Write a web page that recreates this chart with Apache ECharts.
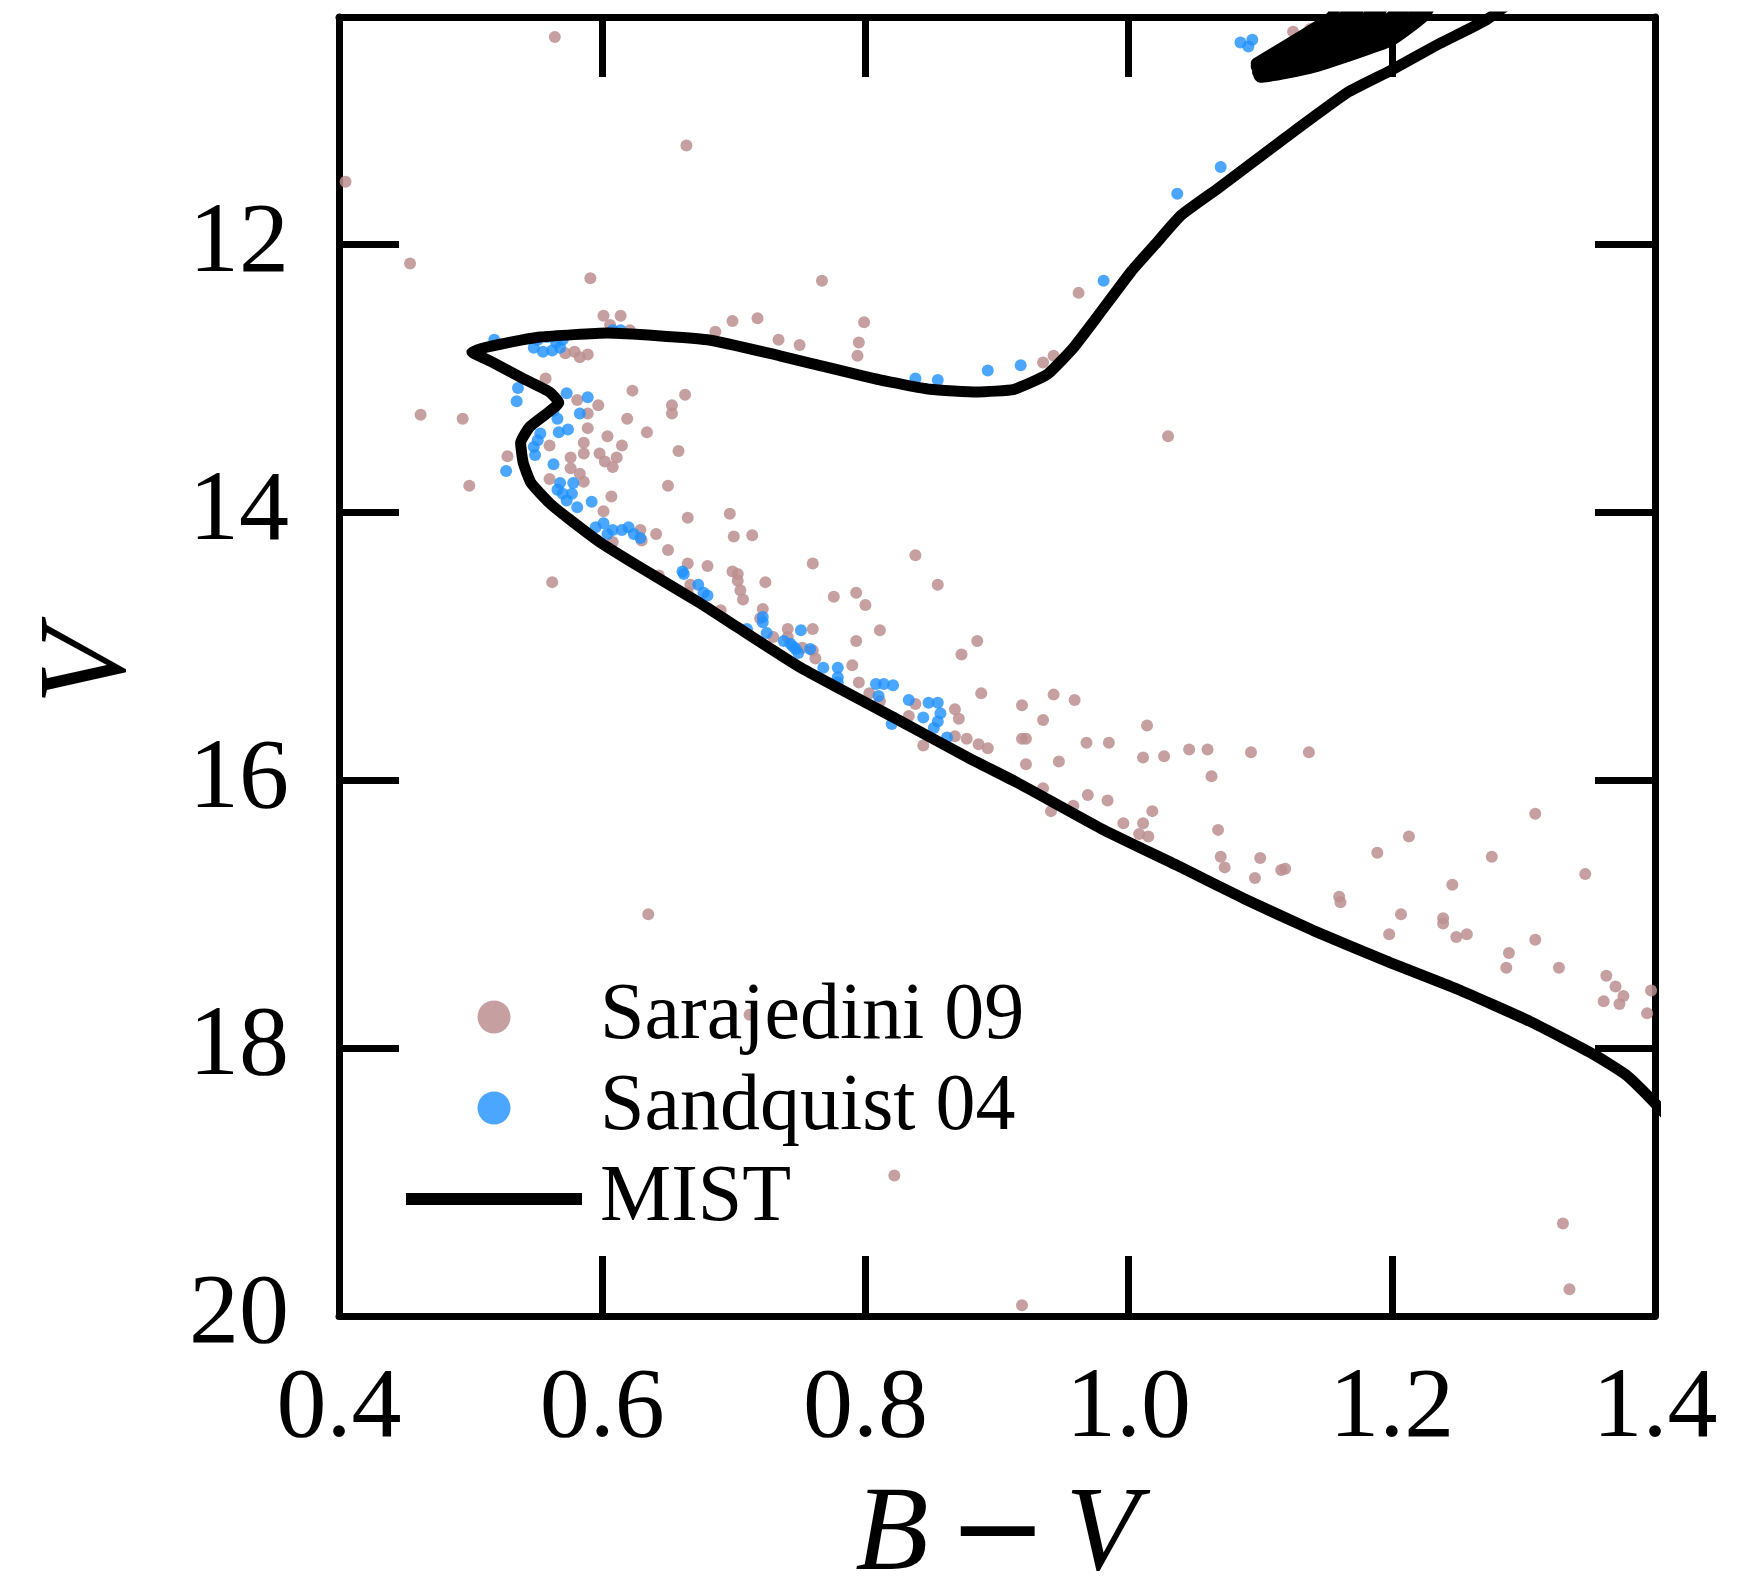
<!DOCTYPE html>
<html><head><meta charset="utf-8">
<script src="https://cdn.jsdelivr.net/npm/echarts@6/dist/echarts.min.js"></script>
<style>html,body{margin:0;padding:0;background:#fff}#chart{width:1742px;height:1582px}</style>
</head><body><div id="chart"></div>
<script>
const xTicks = [0.4, 0.6, 0.8, 1.0, 1.2, 1.4];
const yTicks = [12, 14, 16, 18, 20];
const seriesNames = ['Sarajedini 09', 'Sandquist 04', 'MIST'];

const sarajedini09 = [
[0.564,10.45],[0.664,11.26],[0.405,11.53],[0.454,12.14],[0.591,12.25],
[0.601,12.53],[0.614,12.53],[0.686,12.65],[0.699,12.57],[0.718,12.55],[0.734,12.71],[0.750,12.75],
[0.606,12.60],[0.621,12.64],[0.572,12.81],[0.579,12.80],[0.589,12.82],[0.583,12.84],
[0.557,13.00],[0.623,13.09],[0.663,13.12],[0.653,13.20],[0.653,13.26],
[0.597,13.20],[0.581,13.16],[0.589,13.26],[0.494,13.30],[0.462,13.27],
[0.619,13.30],[0.634,13.40],[0.589,13.37],[0.604,13.43],[0.615,13.50],[0.560,13.50],[0.528,13.58],
[0.586,13.48],[0.586,13.56],[0.598,13.56],[0.602,13.62],[0.611,13.59],[0.608,13.66],
[0.576,13.59],[0.576,13.67],[0.583,13.71],[0.658,13.54],
[0.499,13.80],[0.560,13.75],[0.586,13.77],[0.650,13.80],[0.607,13.88],[0.601,13.99],
[0.665,14.04],[0.697,14.01],[0.700,14.18],[0.714,14.17],
[0.629,14.13],[0.641,14.16],[0.650,14.28],[0.630,14.21],[0.608,14.22],
[0.760,14.38],[0.665,14.38],[0.680,14.40],[0.643,14.47],
[0.699,14.44],[0.703,14.46],[0.703,14.51],[0.705,14.58],[0.707,14.65],
[0.724,14.52],[0.562,14.52],[0.667,14.54],[0.665,14.60],
[0.690,14.73],[0.722,14.72],[0.720,14.79],
[0.741,14.87],[0.760,14.87],[0.730,14.93],[0.741,14.93],[0.752,15.01],
[0.838,14.32],[0.855,14.54],[0.776,14.63],[0.793,14.60],[0.800,14.69],
[0.811,14.88],[0.793,14.96],[0.885,14.96],[0.873,15.06],
[0.760,15.03],[0.762,15.09],[0.790,15.14],[0.795,15.27],
[0.888,15.35],[0.919,15.44],[0.803,15.35],[0.811,15.41],[0.838,15.43],[0.833,15.52],
[0.868,15.47],[0.871,15.54],[0.868,15.67],[0.877,15.69],[0.886,15.73],[0.893,15.76],[0.844,15.74],[0.919,15.69],
[0.943,15.36],[0.959,15.40],[0.935,15.55],[0.922,15.69],[0.922,15.88],[0.947,15.86],
[0.968,15.72],[0.985,15.72],[1.014,15.59],[1.011,15.83],[1.027,15.82],
[1.046,15.77],[1.060,15.77],[1.093,15.79],[1.063,15.97],[1.137,15.79],
[0.969,16.11],[0.984,16.15],[0.935,16.06],[0.941,16.23],[0.958,16.19],[1.018,16.23],
[0.996,16.32],[1.011,16.32],[1.008,16.40],[1.015,16.42],[1.068,16.37],
[1.070,16.57],[1.073,16.65],[1.100,16.58],[1.096,16.73],[1.116,16.67],[1.119,16.66],
[1.160,16.87],[1.161,16.91],[1.189,16.54],[1.213,16.42],[1.309,16.25],[1.276,16.57],[1.347,16.70],[1.246,16.78],
[1.207,17.00],[1.239,17.03],[1.239,17.07],[1.249,17.17],[1.257,17.15],[1.198,17.15],[1.309,17.19],
[1.289,17.29],[1.287,17.40],[1.327,17.40],
[1.363,17.46],[1.370,17.54],[1.376,17.61],[1.361,17.65],[1.373,17.67],[1.397,17.57],[1.394,17.74],
[0.822,18.95],[0.919,19.92],[1.330,19.31],[1.335,19.80],[0.635,17.00],[0.712,17.75],
[1.030,13.43],[0.962,12.36],[0.935,12.88],[0.943,12.83],
[0.767,12.27],[0.799,12.58],[0.795,12.73],[0.794,12.83],
[1.125,10.41],[1.138,10.39]
];

const sandquist04 = [
[0.518,12.71],[0.551,12.71],[0.558,12.69],[0.565,12.73],[0.570,12.71],[0.555,12.80],[0.548,12.77],[0.562,12.79],[0.568,12.77],
[0.608,12.64],[0.614,12.64],[0.536,13.07],[0.535,13.17],[0.573,13.11],[0.589,13.14],
[0.583,13.26],[0.566,13.30],[0.563,13.24],[0.567,13.40],[0.574,13.38],
[0.553,13.41],[0.551,13.46],[0.548,13.51],[0.549,13.57],[0.527,13.69],[0.563,13.64],
[0.568,13.78],[0.578,13.78],[0.570,13.86],[0.577,13.86],[0.573,13.91],[0.581,13.96],[0.566,13.83],[0.592,13.92],
[0.595,14.11],[0.601,14.08],[0.608,14.13],[0.615,14.13],[0.620,14.11],[0.624,14.16],[0.629,14.19],[0.604,14.16],
[0.662,14.46],[0.661,14.44],[0.673,14.54],[0.680,14.62],[0.677,14.60],[0.710,14.87],
[0.722,14.78],[0.722,14.82],[0.725,14.90],
[0.751,14.88],[0.738,14.96],[0.743,14.98],[0.747,15.02],[0.758,15.02],[0.745,15.00],[0.749,15.05],
[0.768,15.16],[0.779,15.16],[0.779,15.23],[0.779,15.27],
[0.808,15.28],[0.814,15.28],[0.821,15.29],[0.810,15.37],[0.833,15.40],
[0.848,15.42],[0.855,15.42],[0.857,15.50],[0.844,15.53],[0.852,15.61],[0.855,15.56],[0.862,15.68],[0.820,15.58],
[1.085,10.49],[1.094,10.47],[1.091,10.52],[1.070,11.42],[1.037,11.62],
[0.981,12.27],[0.918,12.90],[0.893,12.94],[0.855,13.01],[0.838,13.00]
];

const mist = [
[1.42,18.62],[1.397,18.38],[1.378,18.20],[1.354,18.05],[1.305,17.80],[1.25,17.56],[1.196,17.35],[1.14,17.12],
[1.087,16.88],[1.04,16.65],[0.979,16.36],[0.916,16.02],[0.878,15.83],[0.827,15.56],[0.751,15.16],[0.70,14.84],
[0.675,14.68],[0.629,14.41],[0.598,14.22],[0.575,14.05],[0.56,13.93],[0.546,13.78],[0.540,13.63],[0.538,13.48],
[0.545,13.36],[0.558,13.26],[0.567,13.18],[0.560,13.10],[0.540,13.00],[0.515,12.87],[0.501,12.80],[0.515,12.76],
[0.553,12.69],[0.604,12.66],[0.68,12.71],[0.735,12.83],[0.760,12.89],[0.811,13.01],[0.849,13.08],[0.885,13.10],
[0.913,13.08],[0.938,12.97],[0.958,12.77],[0.976,12.54],[1.002,12.20],[1.02,12.00],[1.040,11.78],[1.068,11.58],
[1.118,11.21],[1.167,10.86],[1.199,10.70],[1.236,10.50],[1.272,10.32],[1.30,10.12],[1.33,9.92],
[1.26,9.95],[1.232,10.18],[1.224,10.30],[1.199,10.48],[1.141,10.675],[1.10,10.75],
[1.099,10.738],[1.143,10.65],[1.19,10.48],[1.215,10.30],[1.22,10.20],
[1.21,10.20],[1.207,10.30],[1.145,10.62],[1.099,10.725],
[1.098,10.712],[1.142,10.61],[1.199,10.30],[1.204,10.20],
[1.194,10.20],[1.19,10.30],[1.14,10.59],[1.098,10.70],
[1.098,10.685],[1.135,10.58],[1.181,10.30],[1.186,10.20],
[1.177,10.20],[1.172,10.30],[1.13,10.57],[1.097,10.672],
[1.097,10.66],[1.125,10.55],[1.163,10.30],[1.168,10.20],
[1.159,10.20],[1.154,10.30],[1.097,10.645]
];

const serif = "'Liberation Serif', 'Times New Roman', serif";
const chart = echarts.init(document.getElementById('chart'), null, {renderer: 'canvas'});
const tickStyle = {show: true, inside: true, length: 60, lineStyle: {color: '#000', width: 7}};
const lineAx = {show: true, lineStyle: {color: '#000', width: 7}};
chart.setOption({
  animation: false,
  backgroundColor: '#fff',
  grid: {left: 339, right: 87, top: 17, bottom: 266, containLabel: false, outerBoundsMode: 'none'},
  legend: {
    orient: 'vertical', left: 400, top: 977, padding: 0, itemGap: 11,
    itemWidth: 176, itemHeight: 33, selectedMode: false,
    data: [
      seriesNames[0],
      seriesNames[1],
      {name: seriesNames[2], itemStyle: {color: 'rgba(0,0,0,0)', borderWidth: 0}, lineStyle: {color: '#000', width: 12, cap: 'butt'}}
    ],
    textStyle: {fontFamily: serif, fontSize: 80, color: '#000', lineHeight: 80, padding: [0, 0, 0, 13]}
  },
  xAxis: [
    {type: 'value', position: 'bottom', min: 0.4, max: 1.4, interval: 0.2,
     axisLine: lineAx,
     axisTick: Object.assign({customValues: xTicks}, tickStyle),
     axisLabel: {customValues: xTicks, formatter: v => v.toFixed(1), fontFamily: serif, fontSize: 100, color: '#000', margin: 44},
     splitLine: {show: false},
     name: '{i|B}{n|\u2212}{i|V}', nameLocation: 'middle', nameGap: 161,
     nameTextStyle: {rich: {
       i: {fontFamily: serif, fontStyle: 'italic', fontSize: 120, color: '#000'},
       n: {fontFamily: "'DejaVu Sans', sans-serif", fontSize: 118, color: '#000', padding: [0, 18, 0, 20]}
     }, fontFamily: serif, fontSize: 120, color: '#000'}},
    {type: 'value', position: 'top', min: 0.4, max: 1.4, interval: 0.2,
     axisLine: lineAx,
     axisTick: Object.assign({customValues: xTicks}, tickStyle),
     axisLabel: {show: false}, splitLine: {show: false}}
  ],
  yAxis: [
    {type: 'value', position: 'left', min: 10.3, max: 20, inverse: true,
     axisLine: lineAx,
     axisTick: Object.assign({customValues: yTicks}, tickStyle),
     axisLabel: {customValues: yTicks, fontFamily: serif, fontSize: 100, color: '#000', margin: 50},
     splitLine: {show: false},
     name: 'V', nameLocation: 'middle', nameGap: 186,
     nameTextStyle: {fontFamily: serif, fontStyle: 'italic', fontSize: 124, color: '#000'}},
    {type: 'value', position: 'right', min: 10.3, max: 20, inverse: true,
     axisLine: lineAx,
     axisTick: Object.assign({customValues: yTicks}, tickStyle),
     axisLabel: {show: false}, splitLine: {show: false}}
  ],
  series: [
    {name: seriesNames[0], type: 'scatter', xAxisIndex: 0, yAxisIndex: 0, data: sarajedini09,
     symbolSize: 12, itemStyle: {color: '#BC8F8F', opacity: 0.85}},
    {name: seriesNames[1], type: 'scatter', xAxisIndex: 0, yAxisIndex: 0, data: sandquist04,
     symbolSize: 12, itemStyle: {color: '#1E90FF'}},
    {name: seriesNames[2], type: 'line', xAxisIndex: 0, yAxisIndex: 0, data: mist,
     showSymbol: false, symbol: 'none', smooth: 0.15, clip: true,
     lineStyle: {color: '#000', width: 11, join: 'round', cap: 'round'}, itemStyle: {color: '#000'}}
  ]
});
</script></body></html>
